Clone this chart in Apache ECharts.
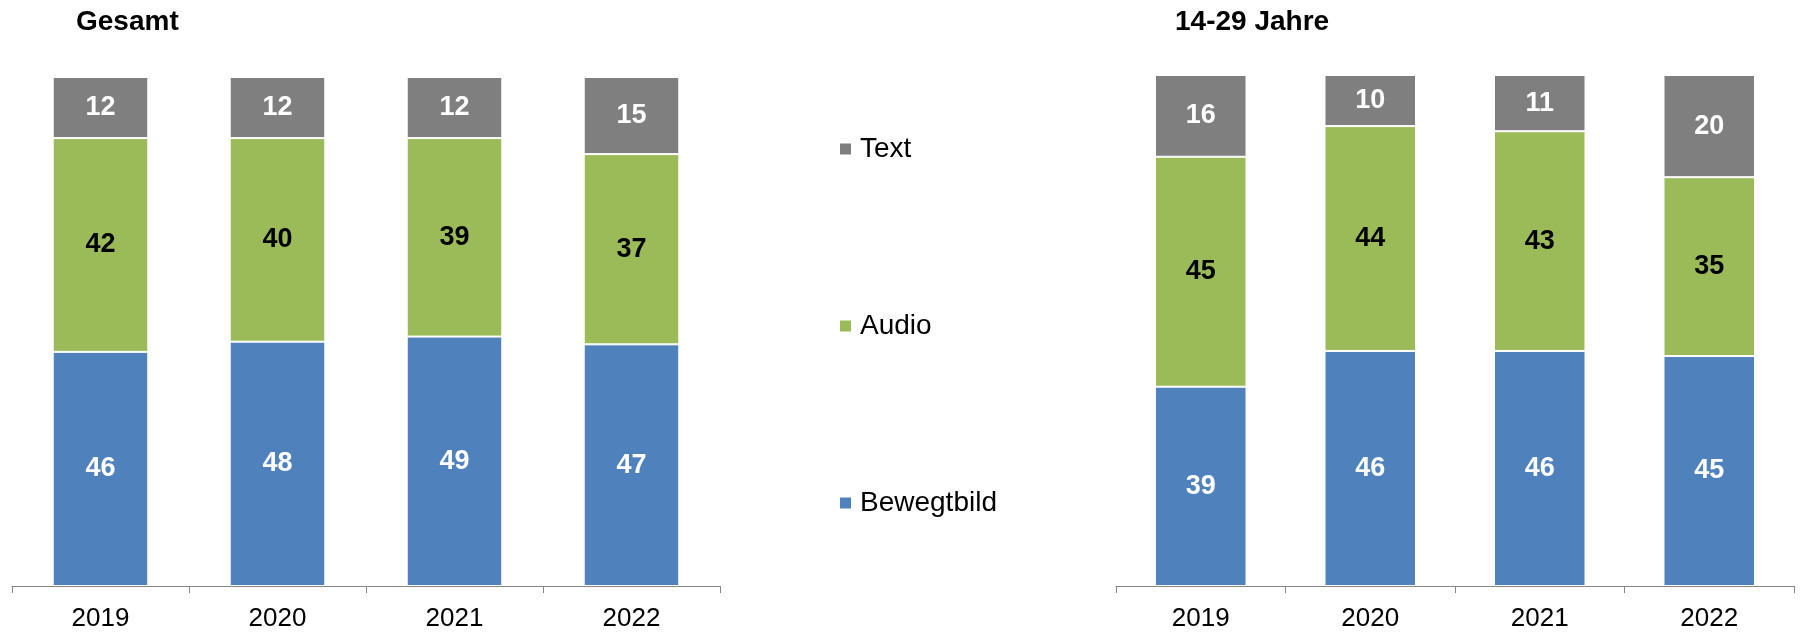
<!DOCTYPE html>
<html>
<head>
<meta charset="utf-8">
<script src="https://cdn.jsdelivr.net/npm/echarts@6/dist/echarts.min.js"></script>
<style>
html,body{margin:0;padding:0;background:#fff;}
#chart{width:1800px;height:632px;}
</style>
</head>
<body>
<div id="chart"></div>
<script>
// ---- data ----
const years = ['2019', '2020', '2021', '2022'];
const seriesNames = ['Bewegtbild', 'Audio', 'Text'];
const legendOrder = ['Text', 'Audio', 'Bewegtbild'];
const panelTitles = ['Gesamt', '14-29 Jahre'];
// Gesamt
const gesamtBewegtbild = [46, 48, 49, 47];
const gesamtAudio = [42, 40, 39, 37];
const gesamtText = [12, 12, 12, 15];
// 14-29 Jahre
const jungBewegtbild = [39, 46, 46, 45];
const jungAudio = [45, 44, 43, 35];
const jungText = [16, 10, 11, 20];

const colors = { Bewegtbild: '#4F81BD', Audio: '#9BBB59', Text: '#7F7F7F' };
const labelColors = { Bewegtbild: '#ffffff', Audio: '#000000', Text: '#ffffff' };
const FONT = '"Liberation Sans", Arial, sans-serif';

const panels = [
  { Bewegtbild: gesamtBewegtbild, Audio: gesamtAudio, Text: gesamtText },
  { Bewegtbild: jungBewegtbild, Audio: jungAudio, Text: jungText }
];

const grids = [
  { left: 12, width: 708, top: 77, bottom: 44 },
  { left: 1116, width: 678, top: 75, bottom: 45 }
];

const xAxes = grids.map((g, i) => ({
  type: 'category',
  gridIndex: i,
  data: years,
  axisLine: { lineStyle: { color: '#868686', width: 1 } },
  axisTick: { show: true, length: 7, interval: 0, lineStyle: { color: '#868686' } },
  axisLabel: { fontSize: 26, color: '#000', fontFamily: FONT, margin: 20 }
}));
const yAxes = grids.map((g, i) => ({
  type: 'value', gridIndex: i, min: 0, max: 100, show: false, splitLine: { show: false }
}));

const series = [];
panels.forEach((p, pi) => {
  const totals = years.map((y, k) => seriesNames.reduce((s, n) => s + p[n][k], 0));
  seriesNames.forEach(name => {
    series.push({
      name: name,
      type: 'bar',
      stack: 'p' + pi,
      xAxisIndex: pi,
      yAxisIndex: pi,
      barWidth: '54%',
      data: p[name].map((v, k) => ({ value: v / totals[k] * 100, raw: v })),
      itemStyle: { color: colors[name], borderColor: '#ffffff', borderWidth: 1 },
      label: {
        show: true,
        position: 'inside',
        fontSize: 27,
        fontWeight: 'bold',
        fontFamily: FONT,
        color: labelColors[name],
        formatter: prm => String(prm.data.raw)
      },
      emphasis: { disabled: true }
    });
  });
});

const chart = echarts.init(document.getElementById('chart'), null, { renderer: 'canvas' });
chart.setOption({
  animation: false,
  backgroundColor: '#ffffff',
  title: [
    { text: panelTitles[0], left: 71, top: 3, textStyle: { fontSize: 28, fontWeight: 'bold', color: '#000', fontFamily: FONT } },
    { text: panelTitles[1], left: 1170, top: 3, textStyle: { fontSize: 28, fontWeight: 'bold', color: '#000', fontFamily: FONT } }
  ],
  legend: {
    orient: 'vertical',
    left: 833,
    top: 129,
    data: legendOrder,
    icon: 'rect',
    itemWidth: 13,
    itemHeight: 13,
    itemGap: 147,
    textStyle: { fontSize: 28, color: '#000', fontFamily: FONT, lineHeight: 30, padding: [0, 0, 0, 3] },
    selectedMode: false
  },
  grid: grids,
  xAxis: xAxes,
  yAxis: yAxes,
  series: series
});
</script>
</body>
</html>
